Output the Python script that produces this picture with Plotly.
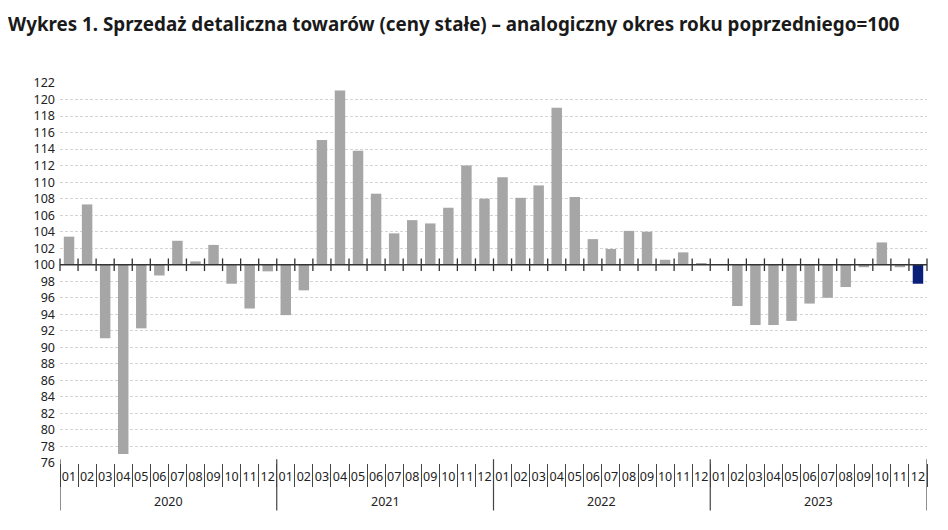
import plotly.graph_objects as go

# data
years = ["2020", "2021", "2022", "2023"]
months = ["01", "02", "03", "04", "05", "06", "07", "08", "09", "10", "11", "12"]
values = [
    103.4, 107.3, 91.1, 77.1, 92.3, 98.7, 102.9, 100.4, 102.4, 97.7, 94.7, 99.2,
    93.9, 96.9, 115.1, 121.1, 113.8, 108.6, 103.8, 105.4, 105.0, 106.9, 112.0, 108.0,
    110.6, 108.1, 109.6, 119.0, 108.2, 103.1, 101.9, 104.1, 104.0, 100.6, 101.5, 100.2,
    100.0, 95.0, 92.7, 92.7, 93.2, 95.3, 96.0, 97.3, 99.7, 102.7, 99.7, 97.7,
]
base_level = 100
y_ticks = list(range(76, 123, 2))

n = len(values)
idx = list(range(n))
month_labels = [m for y in years for m in months]
colors = ["#a6a6a6"] * (n - 1) + ["#0a1f78"]
boundaries = [i - 0.5 for i in range(n + 1)]
year_bounds = [i * len(months) - 0.5 for i in range(len(years) + 1)]
year_centers = [i * len(months) + (len(months) - 1) / 2 for i in range(len(years))]

fig = go.Figure()

fig.add_trace(go.Bar(
    x=idx,
    y=[v - base_level for v in values],
    base=base_level,
    marker=dict(color=colors, line=dict(width=0)),
    showlegend=False,
    hoverinfo="skip",
))

# small ticks crossing the 100 line at month boundaries
fig.add_trace(go.Scatter(
    x=boundaries, y=[base_level] * len(boundaries), mode="markers",
    marker=dict(symbol="line-ns", size=9, line=dict(color="#333333", width=1.3)),
    showlegend=False, hoverinfo="skip", cliponaxis=False,
))

shapes = [dict(
    type="line", xref="paper", yref="y", x0=0, x1=1, y0=base_level, y1=base_level,
    line=dict(color="#333333", width=1.5), layer="above",
)]
for b in year_bounds:
    shapes.append(dict(
        type="line", xref="x", yref="paper", x0=b, x1=b, y0=0.01, y1=-0.125,
        line=dict(color="#444444", width=1.2),
    ))

annotations = [
    dict(text=y, x=c, xref="x", y=-0.101, yref="paper", showarrow=False,
         yanchor="middle", font=dict(size=12.5, color="#222222"))
    for y, c in zip(years, year_centers)
]

fig.update_layout(
    width=940, height=523,
    margin=dict(l=52, r=21, t=75, b=68),
    plot_bgcolor="white", paper_bgcolor="white",
    font=dict(family="Noto Sans", size=12, color="#222222"),
    bargap=0.42,
    title=dict(
        text="<b>Wykres 1. Sprzedaż detaliczna towarów (ceny stałe) – analogiczny okres roku poprzedniego=100</b>",
        x=0, xanchor="left", y=0.969, yanchor="middle", pad=dict(l=0),
        font=dict(size=18.8, color="#1a1a1a"),
    ),
    xaxis=dict(
        range=[-0.5, n - 0.5], tickvals=idx, ticktext=month_labels, ticks="",
        showline=False, showgrid=False, zeroline=False, tickangle=0,
        ticklabelstandoff=4, automargin=False,
        tickfont=dict(size=12.5, color="#222222"),
        minor=dict(tickvals=boundaries, ticks="outside", ticklen=23,
                   tickcolor="#444444", tickwidth=1, showgrid=False),
    ),
    yaxis=dict(
        range=[76, 122], tickvals=y_ticks, ticks="", showline=False,
        showgrid=True, gridcolor="#d4d4d4", gridwidth=1, griddash="3px,2px",
        zeroline=False, tickfont=dict(size=12.5, color="#222222"), ticklabelstandoff=4,
        automargin=False,
    ),
    shapes=shapes,
    annotations=annotations,
)

fig.write_html("out.html")
